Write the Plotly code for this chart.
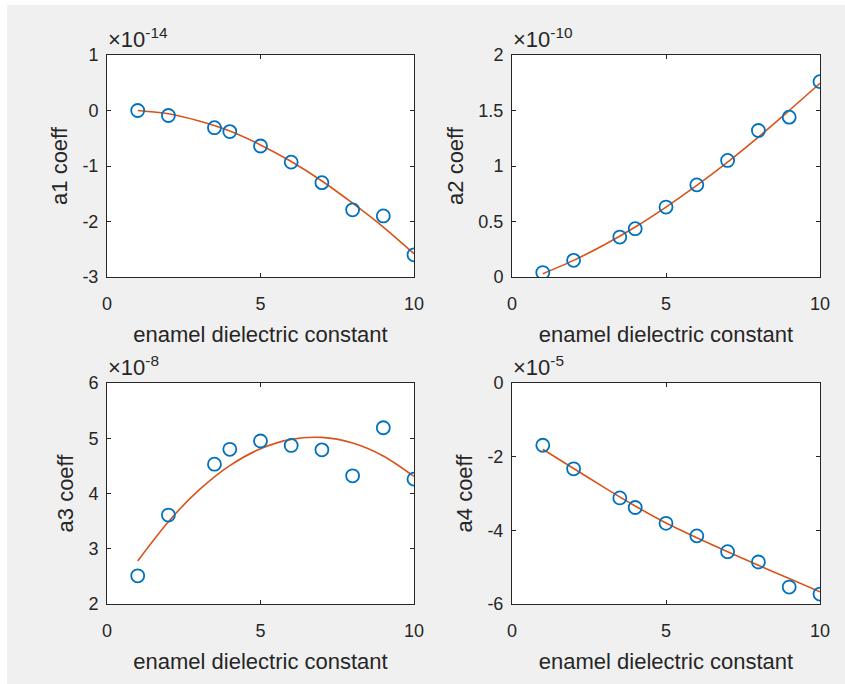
import plotly.graph_objects as go

# data x positions (enamel dielectric constant)
eps = [1, 2, 3.5, 4, 5, 6, 7, 8, 9, 10]

# measured coefficients (scaled by the exponent shown above each axis)
a1 = [0.0, -0.09, -0.31, -0.38, -0.64, -0.93, -1.30, -1.79, -1.90, -2.60]   # x1e-14
a2 = [0.04, 0.15, 0.36, 0.435, 0.63, 0.83, 1.05, 1.32, 1.44, 1.76]          # x1e-10
a3 = [2.51, 3.61, 4.53, 4.80, 4.95, 4.87, 4.79, 4.32, 5.19, 4.26]           # x1e-8
a4 = [-1.69, -2.33, -3.12, -3.38, -3.81, -4.15, -4.58, -4.86, -5.54, -5.73] # x1e-5

# fitted curves
fit_x = [1, 2, 3, 4, 5, 6, 7, 8, 9, 10]
a1_fit = [0.0, -0.06, -0.19, -0.37, -0.62, -0.92, -1.27, -1.67, -2.10, -2.58]
a2_fit = [0.03, 0.15, 0.29, 0.45, 0.63, 0.825, 1.035, 1.26, 1.50, 1.745]
a3_fit = [2.78, 3.49, 4.065, 4.505, 4.81, 4.98, 5.015, 4.915, 4.68, 4.31]
a4_fit = [-1.80, -2.32, -2.84, -3.34, -3.80, -4.20, -4.58, -4.95, -5.31, -5.67]

xticks = [0, 5, 10]
xticktext = ["0", "5", "10"]
ytick_sets = [[-3, -2, -1, 0, 1], [0, 0.5, 1, 1.5, 2], [2, 3, 4, 5, 6], [-6, -4, -2, 0]]
yticktexts = [["-3", "-2", "-1", "0", "1"], ["0", "0.5", "1", "1.5", "2"],
              ["2", "3", "4", "5", "6"], ["-6", "-4", "-2", "0"]]
yranges = [[-3, 1], [0, 2], [2, 6], [-6, 0]]
ylabels = ["a1 coeff", "a2 coeff", "a3 coeff", "a4 coeff"]
exponents = ["-14", "-10", "-8", "-5"]
xlabel = "enamel dielectric constant"

W, H = 845, 684
BLUE = "#0072BD"
ORANGE = "#D95319"
TXT = "#262626"
FONT = "Liberation Sans, Arial, sans-serif"

# panel pixel boxes: (left, right, top, bottom)
boxes = [(107, 414, 55, 277), (512, 820, 55, 277), (107, 414, 383, 604), (512, 820, 383, 604)]

fig = go.Figure()
series = [(a1, a1_fit), (a2, a2_fit), (a3, a3_fit), (a4, a4_fit)]
for i, (pts, fit) in enumerate(series):
    xa = "x" if i == 0 else f"x{i+1}"
    ya = "y" if i == 0 else f"y{i+1}"
    fig.add_trace(go.Scatter(x=fit_x, y=fit, mode="lines", line=dict(color=ORANGE, width=1.6, shape="spline", smoothing=0.8),
                             xaxis=xa, yaxis=ya, showlegend=False, hoverinfo="skip"))
    fig.add_trace(go.Scatter(x=eps, y=pts, mode="markers",
                             marker=dict(symbol="circle-open", size=13, color=BLUE, line=dict(width=1.8, color=BLUE)),
                             xaxis=xa, yaxis=ya, showlegend=False))

layout = dict(width=W, height=H, margin=dict(l=0, r=0, t=0, b=0, pad=0, autoexpand=False),
              paper_bgcolor="#f0f0f0", plot_bgcolor="white",
              font=dict(family=FONT, color=TXT, size=18))
annotations = []
shapes = [
    dict(type="rect", xref="paper", yref="paper", x0=0, x1=1, y0=1 - 5 / H, y1=1, fillcolor="white", line=dict(width=0), layer="below"),
    dict(type="rect", xref="paper", yref="paper", x0=0, x1=7 / W, y0=0, y1=1, fillcolor="white", line=dict(width=0), layer="below"),
]
for i, (l, r, t, b) in enumerate(boxes):
    xk = "xaxis" if i == 0 else f"xaxis{i+1}"
    yk = "yaxis" if i == 0 else f"yaxis{i+1}"
    xa = "x" if i == 0 else f"x{i+1}"
    ya = "y" if i == 0 else f"y{i+1}"
    common = dict(showline=True, linecolor=TXT, linewidth=1, mirror="ticks", ticks="inside", ticklen=4,
                  tickcolor=TXT, showgrid=False, zeroline=False, automargin=False,
                  tickfont=dict(family=FONT, size=18, color=TXT))
    layout[xk] = dict(domain=[l / W, r / W], anchor=ya, range=[0, 10], tickvals=xticks, ticktext=xticktext,
                      ticklabelstandoff=10,
                      title=dict(text=xlabel, font=dict(family=FONT, size=22, color=TXT), standoff=14), **common)
    layout[yk] = dict(domain=[1 - b / H, 1 - t / H], anchor=xa, range=yranges[i], tickvals=ytick_sets[i],
                      ticktext=yticktexts[i], ticklabelstandoff=4,
                      title=dict(text=ylabels[i], font=dict(family=FONT, size=22, color=TXT), standoff=8), **common)
    annotations.append(dict(xref="paper", yref="paper", x=(l - 1) / W, y=1 - (t - 1) / H, xanchor="left", yanchor="bottom",
                            showarrow=False, text=f"×10<sup>{exponents[i]}</sup>",
                            font=dict(family=FONT, size=22, color=TXT)))
layout["annotations"] = annotations
layout["shapes"] = shapes
fig.update_layout(**layout)
fig.write_html("out.html", config={"displayModeBar": False},
               post_script="document.body.style.margin='0';document.body.style.padding='0';"
                           "document.body.style.background='#f0f0f0';"
                           "document.documentElement.style.overflow='hidden';")
